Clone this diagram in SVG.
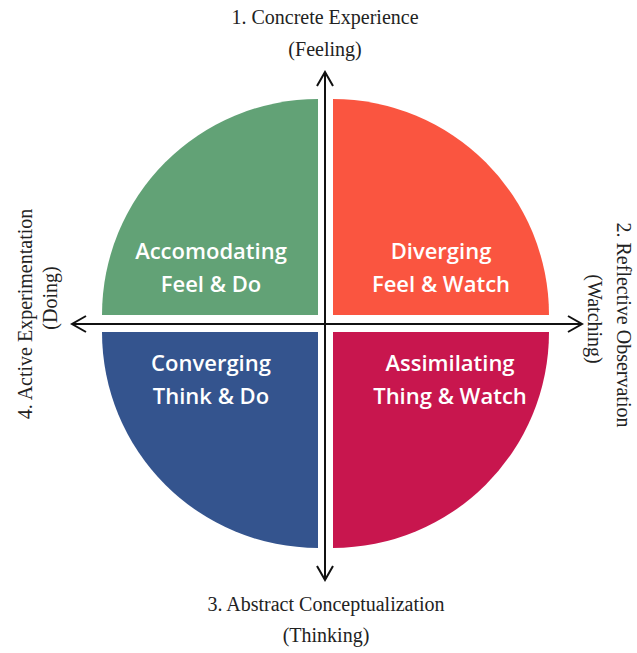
<svg xmlns="http://www.w3.org/2000/svg" width="637" height="653" viewBox="0 0 637 653">
<defs>
<style>
.q{font-family:"Open Sans","Lato",sans-serif;font-weight:600;font-size:22px;fill:#fff;text-anchor:middle}
.l{font-family:"Liberation Serif","DejaVu Serif",serif;font-size:20px;fill:#222;text-anchor:middle}
.ax{stroke:#111;stroke-width:2;fill:none}
</style>
<marker id="ah" viewBox="0 0 20 20" refX="18" refY="10" markerWidth="20" markerHeight="20" markerUnits="userSpaceOnUse" orient="auto">
<path d="M4,2 L18,10 L4,18" fill="none" stroke="#111" stroke-width="2"/>
</marker>
</defs>
<rect width="637" height="653" fill="#fff"/>
<g id="accomodating">
<path d="M318,315 L102,315 A216,216 0 0 1 318,99 Z" fill="#62A276"/>
<text class="q" x="211" y="259">Accomodating</text>
<text class="q" x="211" y="292">Feel &amp; Do</text>
</g>
<g id="diverging">
<path d="M333,315 L333,99 A216,216 0 0 1 549,315 Z" fill="#FA5540"/>
<text class="q" x="441" y="259">Diverging</text>
<text class="q" x="441" y="292">Feel &amp; Watch</text>
</g>
<g id="converging">
<path d="M318,332 L318,548 A216,216 0 0 1 102,332 Z" fill="#34548E"/>
<text class="q" x="211" y="371">Converging</text>
<text class="q" x="211" y="404">Think &amp; Do</text>
</g>
<g id="assimilating">
<path d="M333,332 L549,332 A216,216 0 0 1 333,548 Z" fill="#C8164E"/>
<text class="q" x="450" y="371">Assimilating</text>
<text class="q" x="450" y="404">Thing &amp; Watch</text>
</g>
<g id="connectors">
<line class="ax" x1="325" y1="324" x2="325" y2="72" marker-end="url(#ah)"/>
<line class="ax" x1="325" y1="324" x2="325" y2="580" marker-end="url(#ah)"/>
<line class="ax" x1="325" y1="324" x2="72" y2="324" marker-end="url(#ah)"/>
<line class="ax" x1="325" y1="324" x2="582" y2="324" marker-end="url(#ah)"/>
</g>
<g id="label-concrete">
<text class="l" x="325" y="24">1. Concrete Experience</text>
<text class="l" x="325" y="56">(Feeling)</text>
</g>
<g id="label-abstract">
<text class="l" x="326" y="611">3. Abstract Conceptualization</text>
<text class="l" x="326" y="642">(Thinking)</text>
</g>
<g id="label-active">
<text class="l" transform="translate(32,314) rotate(-90)">4. Active Experimentation</text>
<text class="l" transform="translate(57,298) rotate(-90)">(Doing)</text>
</g>
<g id="label-reflective">
<text class="l" transform="translate(617,325) rotate(90)">2. Reflective Observation</text>
<text class="l" transform="translate(588,319) rotate(90)">(Watching)</text>
</g>
</svg>
